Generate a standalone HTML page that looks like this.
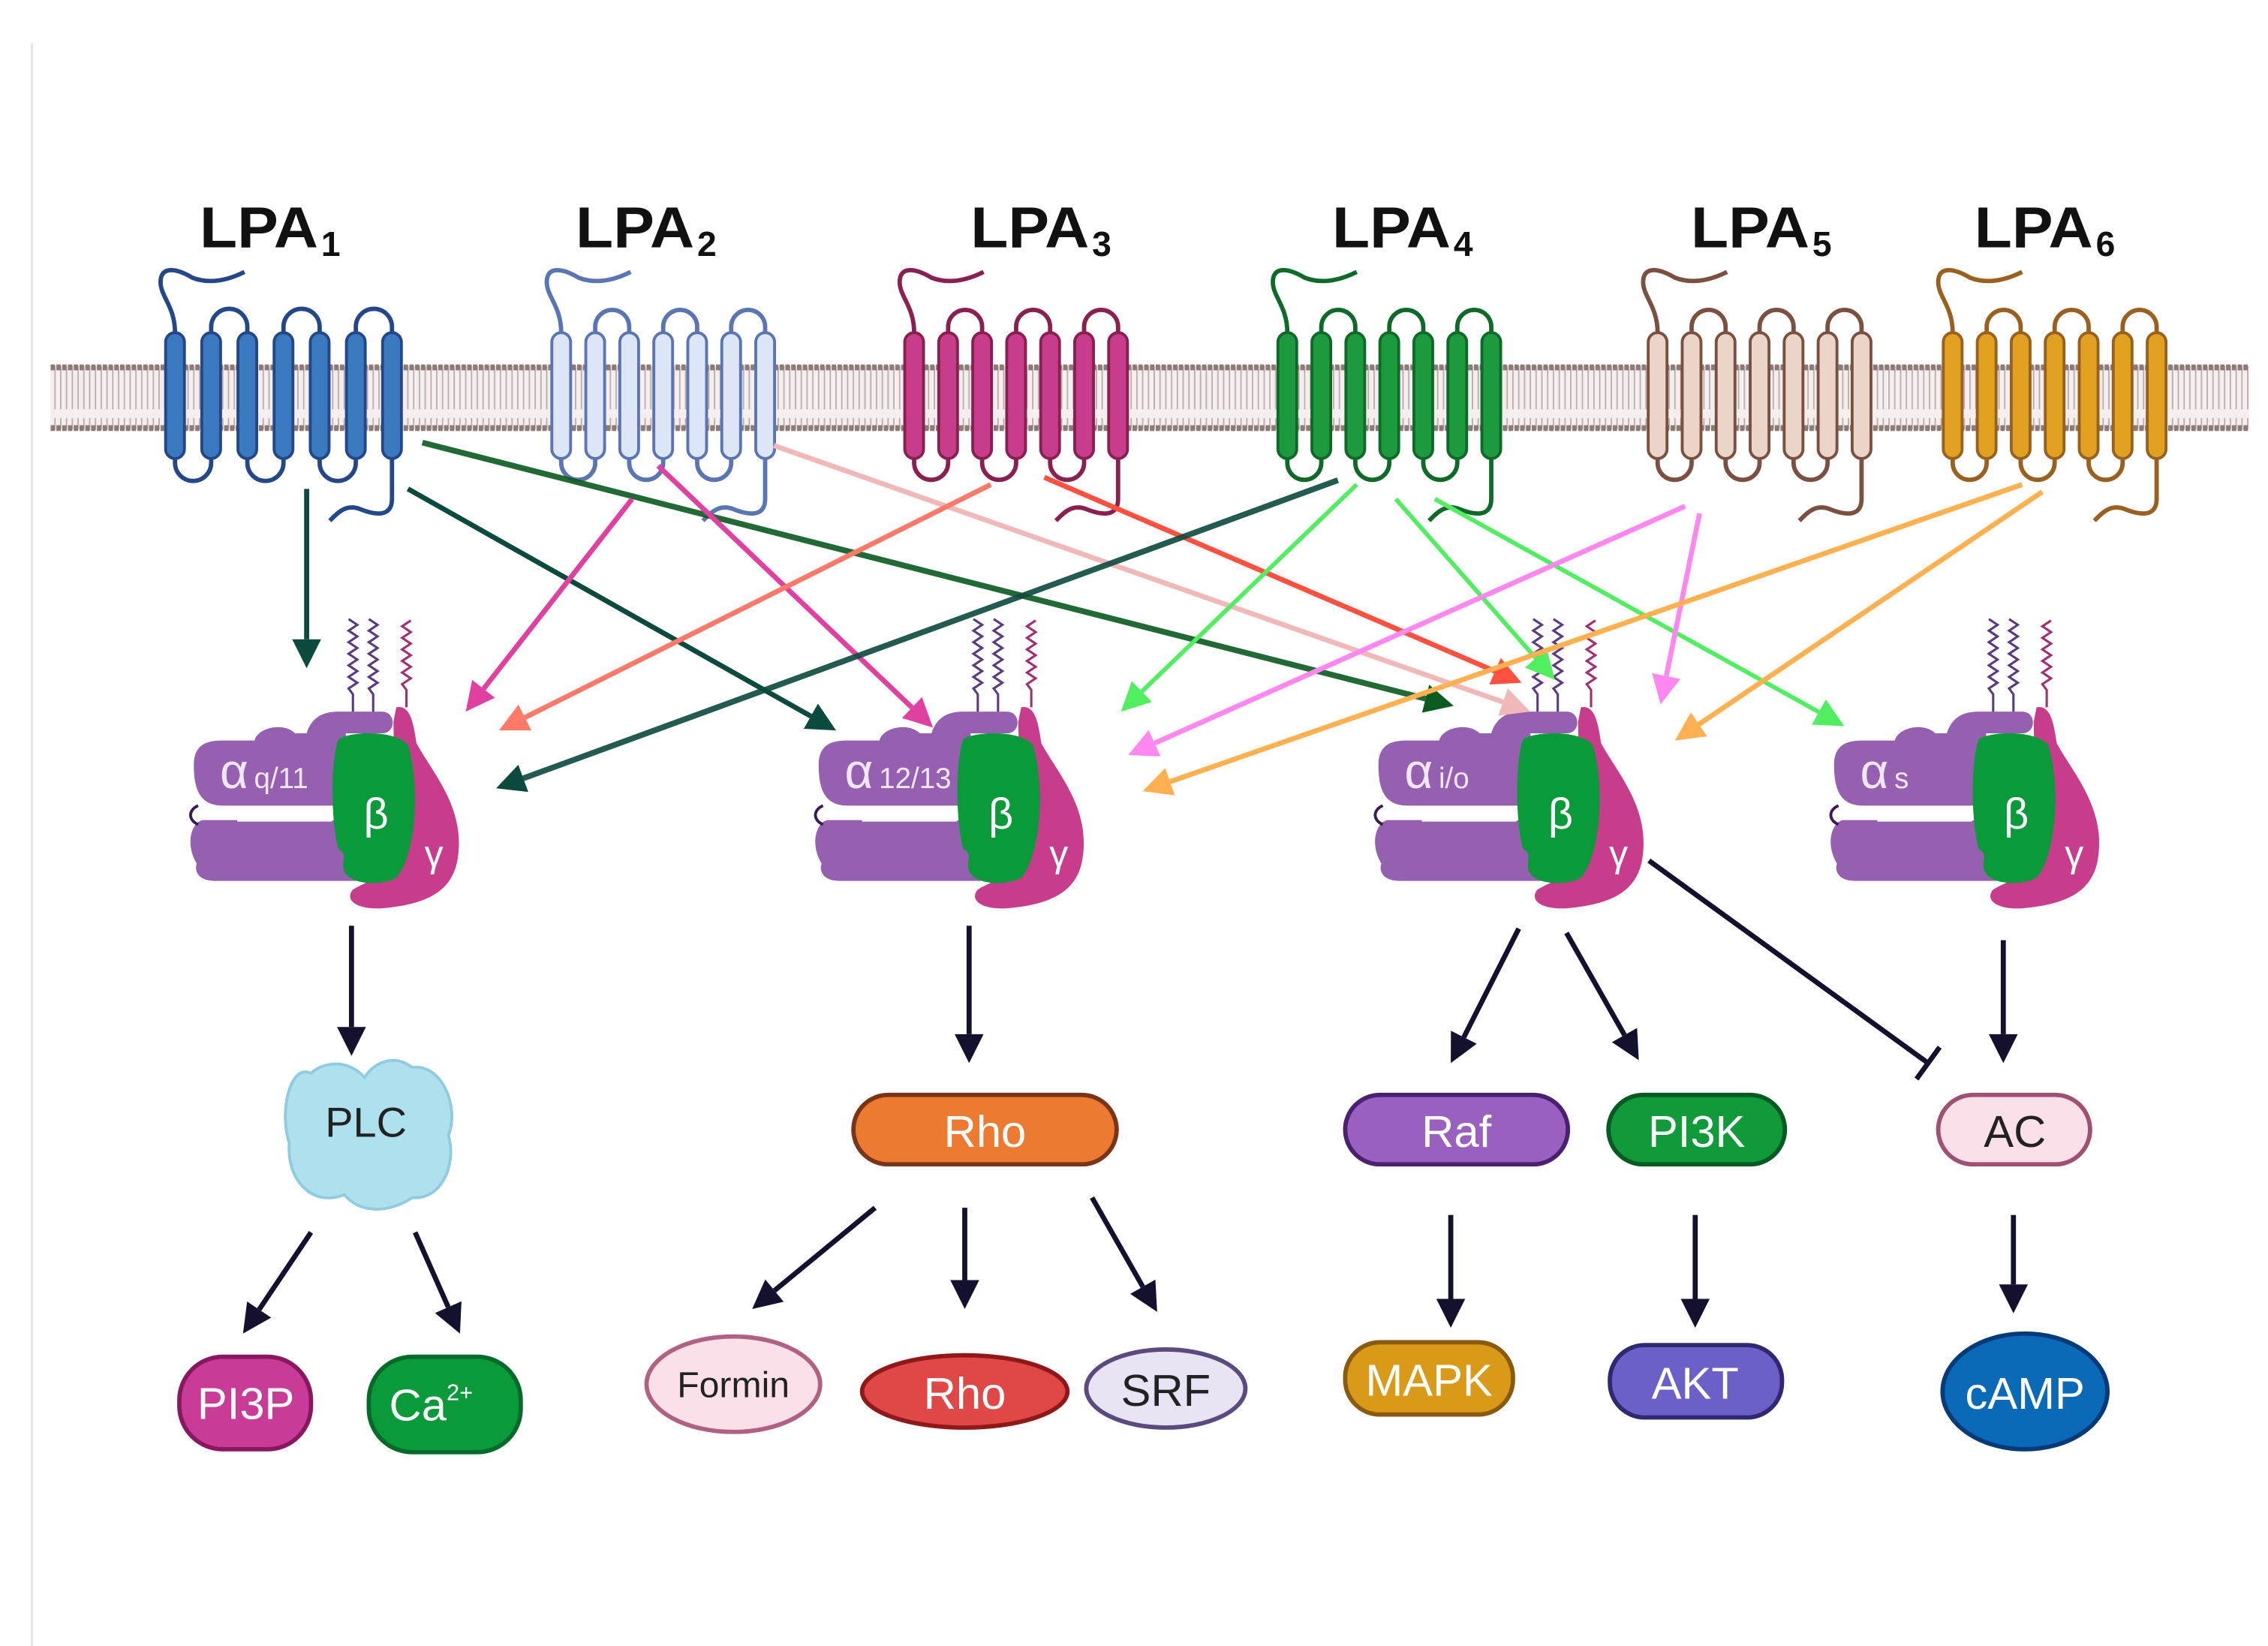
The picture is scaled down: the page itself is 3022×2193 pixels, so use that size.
<!DOCTYPE html>
<html><head><meta charset="utf-8"><style>
html,body{margin:0;padding:0;background:#fff;}
svg{display:block;}
</style></head><body>
<svg id="s" width="3022" height="2193" viewBox="0 0 1568 1138" preserveAspectRatio="none" xmlns="http://www.w3.org/2000/svg" font-family="Liberation Sans, sans-serif">
<defs>
<pattern id="lip" x="0" y="0" width="4" height="44" patternUnits="userSpaceOnUse">
<rect width="4" height="44" fill="#f4efee"/>
<line x1="2" y1="0" x2="2" y2="19" stroke="#b8aaa8" stroke-width="0.9"/>
<line x1="2" y1="25" x2="2" y2="44" stroke="#b8aaa8" stroke-width="0.9"/>
</pattern>
</defs>
<line x1="22" y1="30" x2="22" y2="1138" stroke="#e4e4e4" stroke-width="1.5"/>
<g font-weight="bold" font-size="40" fill="#111">
<text x="138" y="171" textLength="82" lengthAdjust="spacingAndGlyphs">LPA</text><text x="222" y="177" font-size="24">1</text>
<text x="398" y="171" textLength="82" lengthAdjust="spacingAndGlyphs">LPA</text><text x="482" y="177" font-size="24">2</text>
<text x="671" y="171" textLength="82" lengthAdjust="spacingAndGlyphs">LPA</text><text x="755" y="177" font-size="24">3</text>
<text x="921" y="171" textLength="82" lengthAdjust="spacingAndGlyphs">LPA</text><text x="1005" y="177" font-size="24">4</text>
<text x="1169" y="171" textLength="82" lengthAdjust="spacingAndGlyphs">LPA</text><text x="1253" y="177" font-size="24">5</text>
<text x="1365" y="171" textLength="82" lengthAdjust="spacingAndGlyphs">LPA</text><text x="1449" y="177" font-size="24">6</text>
</g>
<rect x="35" y="253" width="1520" height="44" fill="url(#lip)"/>
<line x1="35" y1="254" x2="1555" y2="254" stroke="#8c7a76" stroke-width="4" stroke-dasharray="3 1"/>
<line x1="35" y1="296" x2="1555" y2="296" stroke="#8c7a76" stroke-width="4" stroke-dasharray="3 1"/>
<g id="rec"></g>
<g id="gp"></g>
<g id="arr"></g>
<g id="nodes">
<path d="M215,742 C200,735 193,770 200,790 C198,815 215,835 238,826 C250,840 270,838 285,828 C305,830 316,805 310,785 C318,765 305,735 285,738 C272,728 258,735 252,745 C242,733 225,733 215,742 Z" fill="#aee0ee" stroke="#90cce0" stroke-width="2"/>
<text x="253" y="786" font-size="29" text-anchor="middle" fill="#222">PLC</text>
<rect x="124" y="938" width="91" height="64" rx="30" fill="#c83c98" stroke="#8a1860" stroke-width="3"/>
<text x="170" y="981" font-size="31" text-anchor="middle" fill="#fff">PI3P</text>
<rect x="255" y="938" width="105" height="66" rx="30" fill="#0a9a3a" stroke="#066a2a" stroke-width="3"/>
<text x="298" y="982" font-size="31" text-anchor="middle" fill="#fff">Ca<tspan font-size="16" dy="-14">2+</tspan></text>
<rect x="590" y="757" width="182" height="48" rx="24" fill="#ec7a30" stroke="#7a3418" stroke-width="3"/>
<text x="681" y="793" font-size="31" text-anchor="middle" fill="#fff">Rho</text>
<ellipse cx="507" cy="957" rx="60" ry="33" fill="#fbe0ea" stroke="#b06080" stroke-width="3"/>
<text x="507" y="966" font-size="25" text-anchor="middle" fill="#222">Formin</text>
<ellipse cx="667" cy="962" rx="71" ry="25" fill="#e04848" stroke="#901818" stroke-width="3"/>
<text x="667" y="974" font-size="31" text-anchor="middle" fill="#fff">Rho</text>
<ellipse cx="806" cy="960" rx="55" ry="27" fill="#e8e4f4" stroke="#5a4a80" stroke-width="3"/>
<text x="806" y="972" font-size="31" text-anchor="middle" fill="#222">SRF</text>
<rect x="930" y="757" width="154" height="48" rx="24" fill="#9a60c0" stroke="#4a2070" stroke-width="3"/>
<text x="1007" y="793" font-size="31" text-anchor="middle" fill="#fff">Raf</text>
<rect x="1112" y="757" width="122" height="48" rx="24" fill="#109a3a" stroke="#065a22" stroke-width="3"/>
<text x="1173" y="793" font-size="31" text-anchor="middle" fill="#fff">PI3K</text>
<rect x="1340" y="757" width="105" height="48" rx="24" fill="#fbe0ea" stroke="#a05070" stroke-width="3"/>
<text x="1393" y="793" font-size="31" text-anchor="middle" fill="#222">AC</text>
<rect x="930" y="928" width="116" height="50" rx="24" fill="#d89a18" stroke="#8a5a10" stroke-width="3"/>
<text x="988" y="965" font-size="31" text-anchor="middle" fill="#fff">MAPK</text>
<rect x="1113" y="930" width="119" height="50" rx="24" fill="#6a60c8" stroke="#302870" stroke-width="3"/>
<text x="1172" y="967" font-size="31" text-anchor="middle" fill="#fff">AKT</text>
<ellipse cx="1400" cy="962" rx="57" ry="40" fill="#0a6ab8" stroke="#063a78" stroke-width="3"/>
<text x="1400" y="974" font-size="31" text-anchor="middle" fill="#fff">cAMP</text>
</g>
</svg>
<script>
function add(parent,html){document.getElementById(parent).insertAdjacentHTML('beforeend',html);}
var recs=[[121,25,'#3a78c0','#24478a'],[388,23.5,'#dde6f7','#5a74b4'],[632,23.5,'#c83c8c','#8a2050'],[890,23.5,'#1e9a3e','#0f6a2a'],[1146,23.5,'#ead5c8','#7a5040'],[1350,23.5,'#e0a020','#9a6020']];
var out='';
recs.forEach(function(r){
 var x0=r[0],sp=r[1],f=r[2],s=r[3];
 var xs=[];for(var i=0;i<7;i++)xs.push(x0+i*sp);
 for(var i=0;i<6;i++){
  var a=xs[i],b=xs[i+1],rr=(b-a)/2;
  if(i%2==1){out+='<path d="M'+a+',232 L'+a+',226 A'+rr+','+rr+' 0 0 1 '+b+',226 L'+b+',232" fill="none" stroke="'+s+'" stroke-width="3"/>';}
  else{out+='<path d="M'+a+',314 L'+a+',320 A'+rr+','+rr+' 0 0 0 '+b+',320 L'+b+',314" fill="none" stroke="'+s+'" stroke-width="3"/>';}
 }
 out+='<path d="M'+xs[0]+',230 C'+xs[0]+',212 '+(xs[0]-10)+',205 '+(xs[0]-10)+',195 C'+(xs[0]-10)+',183 '+(xs[0]+2)+',186 '+(xs[0]+12)+',192 C'+(xs[0]+25)+',197 '+(xs[0]+38)+',193 '+(xs[0]+48)+',188" fill="none" stroke="'+s+'" stroke-width="3"/>';
 var x6=xs[6];
 out+='<path d="M'+x6+',316 L'+x6+',345 C'+x6+',358 '+(x6-12)+',356 '+(x6-22)+',352 C'+(x6-32)+',348 '+(x6-38)+',355 '+(x6-43)+',360" fill="none" stroke="'+s+'" stroke-width="3"/>';
 xs.forEach(function(x){
  out+='<rect x="'+(x-6.5)+'" y="230" width="13" height="87" rx="6.5" fill="'+f+'" stroke="'+s+'" stroke-width="2"/>';
 });
});
add('rec',out);
function squig(x,y0,y1,c){var d='M'+x+','+y1+' L'+x+','+(y1-12);var y=y1-12;var k=0;while(y>y0){d+=' L'+(x+(k%2?3:-3))+','+(y-4);y-=4;k++;}return '<path d="'+d+'" fill="none" stroke="'+c+'" stroke-width="1.6"/>';}
function gp(ox,oy,sub){
 var g='<g transform="translate('+ox+','+oy+')">';
 g+=squig(110,0,63,'#5a3a80')+squig(124,0,63,'#5a3a80')+squig(147,0,60,'#a03070');
 g+='<path d="M2,168 C-6,155 -2,140 6,138 L120,138 C132,138 132,180 120,180 L14,180 C4,180 0,174 2,168Z" fill="#9560b0"/>';
 g+='<path d="M0,100 C0,85 10,83 20,83 L42,83 C44,74 62,70 70,78 L78,78 C82,65 92,63 100,63 L130,63 C140,63 140,78 130,78 L105,78 L110,128 L20,128 C5,128 0,118 0,100Z" fill="#9560b0"/>';
 g+='<path d="M30,131 L95,131 L100,135 L95,139 L30,139Z" fill="#fff"/>';
 g+='<path d="M3,128 C-4,131 -4,138 3,141" fill="none" stroke="#3a1a50" stroke-width="2"/>';
 g+='<path d="M140,60 C150,58 152,72 154,85 C165,105 186,128 183,160 C181,185 165,196 130,199 C112,200 104,193 110,186 C120,180 134,176 140,168 L138,70 Z" fill="#c83c8c"/>';
 g+='<path d="M100,82 C110,76 140,76 148,86 C156,110 155,160 140,178 C128,184 110,182 105,175 C100,168 108,162 100,158 C95,140 94,100 100,82Z" fill="#0a9a3a"/>';
 g+='<text x="126" y="144" font-size="30" text-anchor="middle" fill="#fff">β</text>';
 g+='<text x="166" y="170" font-size="26" text-anchor="middle" fill="#fff">γ</text>';
 g+='<text x="18" y="116" font-size="34" fill="#f0e6f6">α<tspan font-size="20" dx="4">'+sub+'</tspan></text>';
 return g+'</g>';
}
add('gp',gp(134,429,'q/11')+gp(566,429,'12/13')+gp(953,429,'i/o')+gp(1268,429,'s'));
function arr(x1,y1,x2,y2,c,w,op){
 w=w||3.5;var dx=x2-x1,dy=y2-y1,L=Math.sqrt(dx*dx+dy*dy),ux=dx/L,uy=dy/L;
 var hl=20,hw=10;var bx=x2-ux*hl,by=y2-uy*hl;
 var s='<line x1="'+x1+'" y1="'+y1+'" x2="'+bx+'" y2="'+by+'" stroke="'+c+'" stroke-width="'+w+'" opacity="'+(op||1)+'"/>';
 s+='<polygon points="'+x2+','+y2+' '+(bx-uy*hw)+','+(by+ux*hw)+' '+(bx+uy*hw)+','+(by-ux*hw)+'" fill="'+c+'"/>';
 return s;
}
var A='';
A+=arr(212,338,212,462,'#0d4a3e');
A+=arr(282,338,578,505,'#0d4a3e');
A+=arr(292,306,1005,488,'#0b5a20',4,0.9);
A+=arr(437,345,322,492,'#e040a0');
A+=arr(455,322,645,503,'#e040a0');
A+=arr(535,308,1058,492,'#f0b8b8');
A+=arr(685,335,345,505,'#ff7a68');
A+=arr(722,330,1052,472,'#ff5040');
A+=arr(925,332,343,545,'#0d4a3e',4,0.9);
A+=arr(938,335,775,492,'#50ee60',3);
A+=arr(965,345,1075,470,'#50ee60',3);
A+=arr(992,345,1275,502,'#50ee60',3);
A+=arr(1165,350,780,522,'#ff88f0');
A+=arr(1175,355,1148,487,'#ff88f0');
A+=arr(1398,335,790,547,'#ffb050');
A+=arr(1412,340,1158,512,'#ffb050');
var D='#12122e';
A+=arr(243,640,243,730,D,3.5);
A+=arr(215,852,168,922,D,3.5);
A+=arr(287,852,318,922,D,3.5);
A+=arr(670,640,670,735,D,3.5);
A+=arr(605,835,520,905,D,3.5);
A+=arr(667,835,667,905,D,3.5);
A+=arr(755,828,800,907,D,3.5);
A+=arr(1050,642,1003,735,D,3.5);
A+=arr(1083,645,1133,733,D,3.5);
A+=arr(1385,650,1385,735,D,3.5);
A+=arr(1003,840,1003,918,D,3.5);
A+=arr(1172,840,1172,918,D,3.5);
A+=arr(1392,840,1392,908,D,3.5);
A+='<line x1="1140" y1="595" x2="1333" y2="735" stroke="'+D+'" stroke-width="3.5"/>';
A+='<line x1="1325" y1="746" x2="1341" y2="724" stroke="'+D+'" stroke-width="3.5"/>';
add('arr',A);
</script>
</body></html>
